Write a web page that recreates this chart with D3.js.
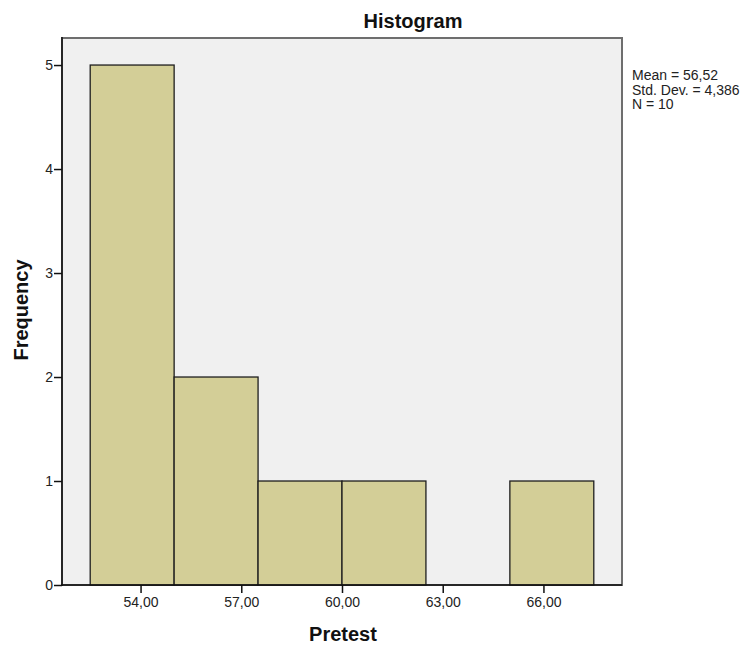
<!DOCTYPE html>
<html>
<head>
<meta charset="utf-8">
<script src="https://cdn.jsdelivr.net/npm/d3@7"></script>
<style>
html,body{margin:0;padding:0;background:#fff;}
svg{display:block;font-family:"Liberation Sans",Arial,sans-serif;}
</style>
</head>
<body>
<svg id="chart" width="744" height="645"></svg>
<script>
// Data
const binStarts = [52.5, 55, 57.5, 60, 62.5, 65];
const binWidth = 2.5;
const counts = [5, 2, 1, 1, 0, 1];
const xTicks = [54, 57, 60, 63, 66];
const yTicks = [0, 1, 2, 3, 4, 5];
const statLines = ["Mean = 56,52", "Std. Dev. = 4,386", "N = 10"];
const title = "Histogram";
const xLabel = "Pretest";
const yLabel = "Frequency";

const svg = d3.select("#chart");
const L = 62, R = 622, T = 38, B = 585;
const x = d3.scaleLinear().domain([51.66, 68.34]).range([L, R]);
const y = d3.scaleLinear().domain([0, 5.26]).range([B, T]);

// plot background
svg.append("rect").attr("x", L).attr("y", T).attr("width", R - L).attr("height", B - T)
  .attr("fill", "#f0f0f0").attr("stroke", "#6e6e6e").attr("stroke-width", 2);

// bars
const bins = binStarts.map((s, i) => ({x0: s, x1: s + binWidth, n: counts[i]})).filter(d => d.n > 0);
svg.append("g").selectAll("rect").data(bins).join("rect")
  .attr("x", d => x(d.x0)).attr("y", d => y(d.n))
  .attr("width", d => x(d.x1) - x(d.x0)).attr("height", d => y(0) - y(d.n))
  .attr("fill", "#d3ce97").attr("stroke", "#1e1e1e").attr("stroke-width", 1.3);

// axes
const fmt = d => d.toFixed(2).replace(".", ",");
const xAxis = svg.append("g").attr("transform", `translate(0,${B})`)
  .call(d3.axisBottom(x).tickValues(xTicks).tickFormat(fmt).tickSizeOuter(0).tickSize(8).tickPadding(4));
const yAxis = svg.append("g").attr("transform", `translate(${L},0)`)
  .call(d3.axisLeft(y).tickValues(yTicks).tickFormat(d3.format("d")).tickSizeOuter(0).tickSize(8).tickPadding(1));
[xAxis, yAxis].forEach(a => {
  a.select(".domain").remove();
  a.selectAll("line").attr("stroke", "#111").attr("stroke-width", 1.5);
  a.selectAll("text").attr("fill", "#222").style("font-size", "14px")
    .style("font-family", '"Liberation Sans",Arial,sans-serif');
});
// axis lines
svg.append("line").attr("x1", L).attr("x2", L).attr("y1", T - 1).attr("y2", B + 1)
  .attr("stroke", "#111").attr("stroke-width", 1.5);
svg.append("line").attr("x1", L - 1).attr("x2", R).attr("y1", B).attr("y2", B)
  .attr("stroke", "#111").attr("stroke-width", 1.5);

// title
svg.append("text").attr("x", 413).attr("y", 28).attr("text-anchor", "middle")
  .style("font-size", "20px").style("font-weight", "bold").attr("fill", "#111").text(title);
// x label
svg.append("text").attr("x", 343).attr("y", 641).attr("text-anchor", "middle")
  .style("font-size", "20px").style("font-weight", "bold").attr("fill", "#111").text(xLabel);
// y label
svg.append("text").attr("transform", "translate(28,310) rotate(-90)").attr("text-anchor", "middle")
  .style("font-size", "20px").style("font-weight", "bold").attr("fill", "#111").text(yLabel);

// stats
svg.append("g").selectAll("text").data(statLines).join("text")
  .attr("x", 632).attr("y", (d, i) => 80 + i * 14.5)
  .style("font-size", "14px").attr("fill", "#222").text(d => d);
</script>
</body>
</html>
